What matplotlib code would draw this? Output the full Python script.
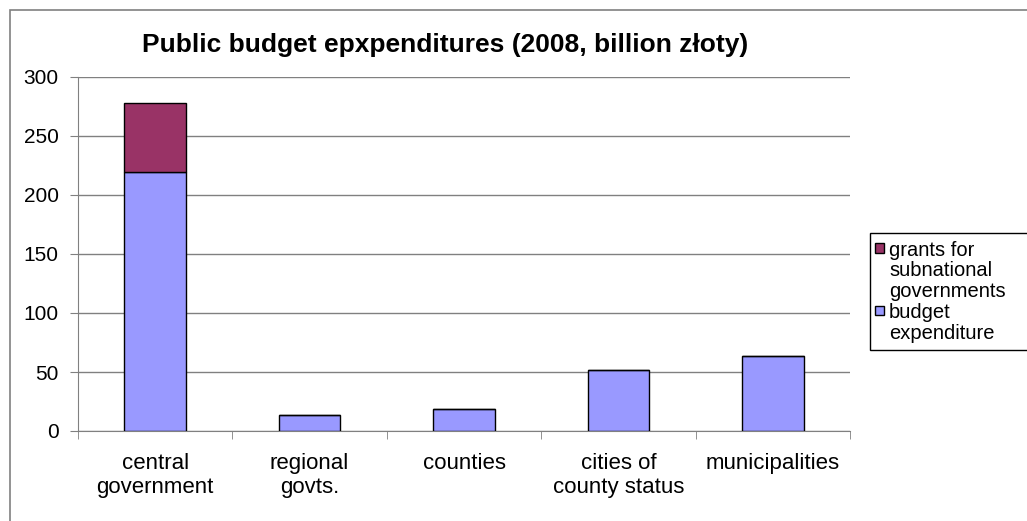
import matplotlib.pyplot as plt
import matplotlib.patches as mpatches
import numpy as np

categories = ["central\ngovernment", "regional\ngovts.", "counties",
              "cities of\ncounty status", "municipalities"]
budget = [219.5, 13.5, 19, 51.5, 63.5]
grants = [58.5, 0, 0, 0, 0]
legend_labels = ["grants for\nsubnational\ngovernments", "budget\nexpenditure"]

col_budget = "#9999ff"
col_grants = "#993366"

W, H = 1027, 521
fig = plt.figure(figsize=(W / 100, H / 100), dpi=100)
# outer chart border
fig.patches.append(mpatches.Rectangle((10 / W, -0.1), 1.2, 1 - 10 / H + 0.1,
                                      transform=fig.transFigure, fill=False,
                                      edgecolor="#808080", linewidth=1.2))

ax = fig.add_axes([78 / W, 1 - 431 / H, 772 / W, 354 / H])
x = np.arange(len(categories))
ax.bar(x, budget, width=0.4, color=col_budget, edgecolor="black", linewidth=1, zorder=3)
ax.bar(x, grants, width=0.4, bottom=budget, color=col_grants, edgecolor="black",
       linewidth=1, zorder=3)

ax.set_xlim(-0.5, len(categories) - 0.5)
ax.set_ylim(0, 300)
ax.set_yticks(range(0, 301, 50))
ax.yaxis.grid(True, color="#808080", linewidth=1, zorder=0)
for s in ["top", "right"]:
    ax.spines[s].set_visible(False)
ax.spines["left"].set_color("#808080")
ax.spines["bottom"].set_color("#808080")

ax.set_xticks(x)
ax.set_xticklabels(categories, fontfamily="Liberation Sans", fontsize=16,
                   linespacing=1.15)
ax.tick_params(axis="x", length=0, pad=16)
ax.set_xticks(np.arange(-0.5, len(categories), 1), minor=True)
ax.tick_params(axis="x", which="minor", length=6, color="#808080")
ax.tick_params(axis="y", labelsize=15, length=6, color="#808080", pad=8)
for t in ax.get_yticklabels():
    t.set_fontfamily("Liberation Sans")

fig.text(445 / W, 1 - 45 / H, "Public budget epxpenditures (2008, billion złoty)",
         ha="center", va="center", fontsize=19, fontweight="bold",
         fontfamily="Liberation Sans")

# legend, drawn by hand so the swatch sits on the first line of each entry
fig.patches.append(mpatches.Rectangle((870 / W, 1 - 350 / H), 200 / W, 117 / H,
                                      transform=fig.transFigure, facecolor="white",
                                      edgecolor="black", linewidth=1))
line_h = 20.7
y0 = 248
for lab, col in zip(legend_labels, [col_grants, col_budget]):
    fig.patches.append(mpatches.Rectangle((875 / W, 1 - (y0 + 4.5) / H), 9 / W, 9 / H,
                                          transform=fig.transFigure, facecolor=col,
                                          edgecolor="black", linewidth=1))
    fig.text(889 / W, 1 - (y0 - 7) / H, lab, ha="left", va="top",
             fontsize=14.5, fontfamily="Liberation Sans", linespacing=1.1)
    y0 += line_h * (lab.count("\n") + 1)

fig.savefig("out.png", dpi=100)
